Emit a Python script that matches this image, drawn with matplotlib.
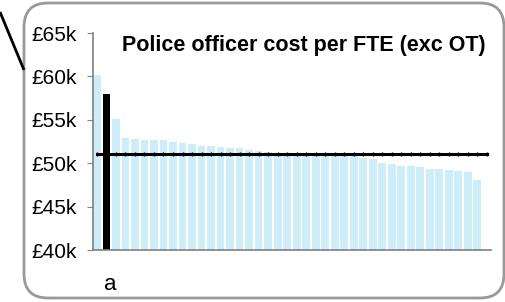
import numpy as np
import matplotlib
matplotlib.use("Agg")
import matplotlib.pyplot as plt
import matplotlib.transforms as mtransforms
from matplotlib.patches import FancyBboxPatch

# cost per FTE in £k, one bar per force (sorted), force "a" highlighted
costs = [60.2, 58.0, 55.1, 52.9, 52.8, 52.7, 52.7, 52.7, 52.45, 52.35,
         52.2, 52.0, 52.0, 51.9, 51.75, 51.75, 51.5, 51.4, 51.25, 51.2,
         51.15, 51.1, 51.05, 51.0, 50.85, 50.85, 50.8, 50.8, 50.6, 50.5,
         50.0, 49.9, 49.7, 49.7, 49.55, 49.35, 49.35, 49.2, 49.1, 49.0, 48.05]
highlight = 1
highlight_label = "a"
average = 51.1
yticks = [40, 45, 50, 55, 60, 65]
ytick_labels = ["£40k", "£45k", "£50k", "£55k", "£60k", "£65k"]
title = "Police officer cost per FTE (exc OT)"

plt.rcParams['font.family'] = ['Liberation Sans', 'DejaVu Sans']

W, H = 506, 302
fig = plt.figure(figsize=(W / 100, H / 100), dpi=100)

# background axes in pixel units for the rounded frame + pointer line
bg = fig.add_axes([0, 0, 1, 1])
bg.set_xlim(0, W)
bg.set_ylim(H, 0)
bg.axis("off")
bg.add_patch(FancyBboxPatch((24, 3), 480, 295,
                            boxstyle="round,pad=0,rounding_size=24",
                            fc="white", ec="#999999", lw=2))
bg.plot([0, 24], [12, 70], color="black", lw=2, solid_capstyle="butt")

ax = fig.add_axes([93 / W, 1 - 250 / H, 398 / W, 217 / H])
ax.patch.set_alpha(0)

x = np.arange(len(costs))
colors = ["#cdedf9"] * len(costs)
colors[highlight] = "black"
ax.bar(x, costs, width=0.84, color=colors, bottom=0)

xs = np.arange(len(costs) + 1)
ax.plot(xs, [average] * len(xs), color="black", lw=2.2, marker="|", ms=3, mew=1)

ax.set_ylim(40, 65)
ax.set_xlim(-0.42, 41.47)
ax.set_yticks(yticks)
ax.set_yticklabels(ytick_labels, fontsize=15)
ax.set_xticks([highlight])
ax.set_xticklabels([highlight_label], fontsize=16)
ax.tick_params(axis="x", length=0, pad=17)
ax.tick_params(axis="y", length=4.5, color="#808080", pad=7)
# nudge the "a" label a little right, like the original
shift = mtransforms.ScaledTranslation(4 / 100, 0, fig.dpi_scale_trans)
for lab in ax.get_xticklabels():
    lab.set_transform(lab.get_transform() + shift)
for s in ["top", "right"]:
    ax.spines[s].set_visible(False)
for s in ["left", "bottom"]:
    ax.spines[s].set_color("#808080")
    ax.spines[s].set_linewidth(1.2)

fig.text(304 / W, 1 - 50.7 / H, title, ha="center", va="baseline",
         fontsize=15.5, fontweight="bold")

fig.savefig("out.png", dpi=100)
